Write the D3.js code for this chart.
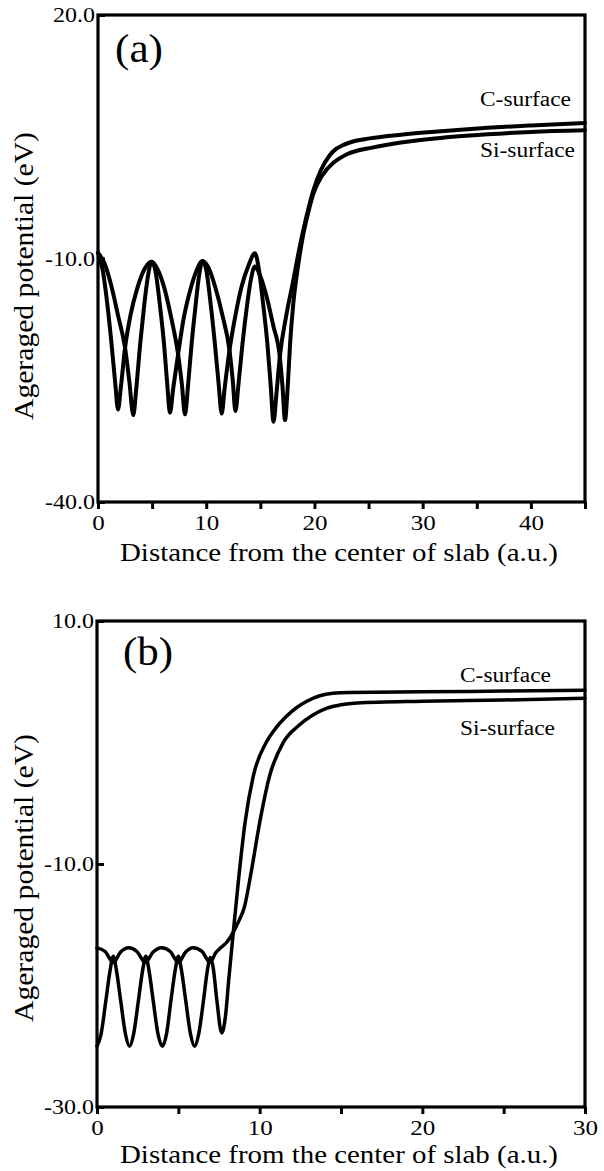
<!DOCTYPE html>
<html>
<head>
<meta charset="utf-8">
<script src="https://cdn.jsdelivr.net/npm/d3@7"></script>
<style>
  html, body { margin: 0; padding: 0; background: #fff; }
  svg { display: block; }
  text { font-family: "Liberation Serif", "Tinos", "Times New Roman", "Nimbus Roman", "DejaVu Serif", serif; fill: #000; }
</style>
</head>
<body>
<svg id="chart" width="604" height="1171"></svg>
<script>
// ---------------- data ----------------
// Panel (a): x in a.u., averaged potential in eV
const aXTicks = [0, 5, 10, 15, 20, 25, 30, 35, 40, 45];
const aYTicks = [20, -10, -40];
const aCsurface = [
  [0,-9.3],[0.4,-11.2],[0.85,-15.5],[1.25,-20.5],[1.6,-25.5],[1.85,-28.6],[2.1,-26],[2.5,-21],[3.0,-17],[3.6,-13.8],[4.3,-11.3],[4.95,-10.4],
  [5.3,-11.5],[5.7,-15.5],[6.1,-20.5],[6.4,-25.5],[6.65,-29],[6.95,-26],[7.4,-21.8],[7.9,-17.5],[8.5,-14],[9.1,-11.5],[9.65,-10.3],
  [10.0,-11.4],[10.4,-15.5],[10.8,-20.5],[11.15,-25.5],[11.43,-29.1],[11.7,-26],[12.15,-21.3],[12.7,-17],[13.3,-13.3],[13.9,-10.9],[14.5,-9.35],
  [14.85,-11.2],[15.25,-15.5],[15.65,-20.5],[15.95,-25.5],[16.22,-30.1],[16.5,-26.5],[16.8,-22.1],[17.4,-17],[18.0,-13],[18.5,-9.5],[18.97,-6.5],
  [19.45,-3.8],[19.9,-1.6],[20.6,0.9],[21.4,2.7],[22.0,3.5],[22.7,4.0],[23.8,4.5],[25.1,4.8],[28,5.25],[32,5.7],[36,6.1],[40,6.4],[45,6.7]
];
const aSisurface = [
  [0,-9.3],[0.6,-10.6],[1.2,-13.2],[1.85,-17],[2.5,-21],[2.9,-25.2],[3.26,-29.3],[3.55,-25.8],[3.9,-20.5],[4.25,-16],[4.6,-12.3],[4.95,-10.4],
  [5.5,-11.3],[6.1,-13.5],[6.75,-17.2],[7.4,-21.8],[7.75,-25.5],[8.04,-29.2],[8.33,-25.5],[8.65,-20.5],[9.0,-16],[9.3,-12.5],[9.65,-10.3],
  [10.2,-11.1],[10.85,-13.6],[11.5,-17],[12.15,-21.3],[12.45,-25],[12.7,-28.8],[12.98,-25.5],[13.35,-20.5],[13.75,-16],[14.1,-12.8],[14.5,-11.0],
  [15.0,-12.2],[15.6,-14.8],[16.2,-18.3],[16.8,-22.1],[17.05,-25.8],[17.28,-29.9],[17.52,-26],[17.75,-20.5],[18.05,-15.5],[18.5,-10.8],[18.97,-7.0],
  [19.45,-4.2],[19.9,-2.0],[20.7,0.2],[21.75,1.8],[22.4,2.4],[23.0,2.85],[24.0,3.3],[25.1,3.6],[28,4.3],[32,4.9],[36,5.3],[40,5.6],[45,5.8]
];

// Panel (b)
const bXTicks = [0, 5, 10, 15, 20, 25, 30];
const bYTicks = [10, -10, -30];
const bCsurface = [
  [0,-25],[0.25,-24],[0.55,-21.2],[0.8,-18.8],[1.0,-17.6],[1.2,-18.8],[1.45,-21.2],[1.75,-24],[2.0,-25],
  [2.25,-24],[2.55,-21.2],[2.8,-18.8],[3.0,-17.6],[3.2,-18.8],[3.45,-21.2],[3.75,-24],[4.02,-25],
  [4.27,-24],[4.55,-21.2],[4.8,-18.8],[5.0,-17.6],[5.2,-18.8],[5.45,-21.2],[5.75,-24],[6.0,-25],
  [6.25,-24],[6.55,-21.2],[6.78,-18.8],[6.97,-17.7],[7.15,-18.6],[7.35,-21],[7.67,-23.9],[7.9,-22.5],[8.1,-19.5],
  [8.38,-15.6],[8.7,-11.3],[9.1,-6.6],[9.6,-2.8],[10.4,0],[11.0,1.2],[11.6,2.1],[12.3,2.9],[12.9,3.4],[13.7,3.85],
  [14.5,4.05],[15.5,4.12],[20,4.17],[25,4.23],[30,4.3]
];
const bSisurface = [
  [0,-16.9],[0.5,-17.2],[1.0,-18.1],[1.45,-17.25],[1.95,-16.9],[2.45,-17.2],[2.97,-18.1],[3.45,-17.25],[3.97,-16.9],
  [4.5,-17.2],[5.0,-18.1],[5.45,-17.25],[5.9,-16.9],[6.45,-17.2],[6.95,-18.1],[7.3,-17.3],[7.6,-16.9],[8.0,-16.4],
  [8.38,-15.6],[8.75,-14.6],[9.05,-13.6],[9.5,-10.5],[10.0,-6.6],[10.6,-2.8],[11.45,0],[12.4,1.4],[13.2,2.2],
  [14.1,2.8],[15.0,3.1],[16.0,3.25],[20,3.4],[25,3.5],[30,3.65]
];

const xTitle = "Distance from the center of slab (a.u.)";
const yTitle = "Ageraged potential (eV)";
const seriesLabels = ["C-surface", "Si-surface"];
const panelLabels = ["(a)", "(b)"];

// ---------------- drawing ----------------
const svg = d3.select("#chart");
const FONT = '"Liberation Serif", "Tinos", "Times New Roman", "Nimbus Roman", "DejaVu Serif", serif';

function drawPanel(cfg) {
  const x = d3.scaleLinear().domain(cfg.xDomain).range([cfg.left, cfg.right]);
  const y = d3.scaleLinear().domain(cfg.yDomain).range([cfg.bottom, cfg.top]);
  const g = svg.append("g");

  const line = d3.line().x(d => x(d[0])).y(d => y(d[1])).curve(d3.curveMonotoneX);
  [cfg.c, cfg.si].forEach(s => {
    g.append("path").attr("d", line(s))
      .attr("fill", "none").attr("stroke", "#000")
      .attr("stroke-width", cfg.lineW).attr("stroke-linejoin", "round").attr("stroke-linecap", "round");
  });

  // bottom axis (outward ticks)
  const xa = g.append("g").attr("transform", `translate(0,${cfg.bottom})`)
    .call(d3.axisBottom(x).tickValues(cfg.xTicks).tickSize(7).tickPadding(6)
      .tickFormat(d => d % 10 === 0 ? String(d) : ""));
  xa.attr("font-family", FONT);
  xa.select(".domain").remove();
  xa.selectAll("line").attr("stroke-width", 3);
  xa.selectAll("text").attr("font-size", 21).style("font-family", FONT)
    .each(function(d) {
      if (d % 10 === 0) d3.select(this).attr("textLength", String(d).length * 12.5).attr("lengthAdjust", "spacingAndGlyphs");
    });

  // left axis (inward ticks)
  const ya = g.append("g").attr("transform", `translate(${cfg.left},0)`)
    .call(d3.axisLeft(y).tickValues(cfg.yTicks).tickSizeInner(-7).tickSizeOuter(0).tickPadding(3)
      .tickFormat(d => d.toFixed(1)));
  ya.attr("font-family", FONT);
  ya.select(".domain").remove();
  ya.selectAll("line").attr("stroke-width", 3);
  ya.selectAll("text").attr("font-size", 21).style("font-family", FONT)
    .attr("textLength", d => d < 0 ? 50 : 42).attr("lengthAdjust", "spacingAndGlyphs");

  // frame
  g.append("rect").attr("x", cfg.left).attr("y", cfg.top)
    .attr("width", cfg.right - cfg.left).attr("height", cfg.bottom - cfg.top)
    .attr("fill", "none").attr("stroke", "#000").attr("stroke-width", 3.2);

  // titles
  g.append("text").attr("x", 120).attr("y", cfg.bottom + cfg.titleDy)
    .attr("font-size", 26).attr("textLength", 438).attr("lengthAdjust", "spacingAndGlyphs")
    .text(xTitle);
  g.append("text")
    .attr("transform", `translate(33,${cfg.yTitleStart}) rotate(-90)`)
    .attr("font-size", 27).attr("textLength", 288).attr("lengthAdjust", "spacingAndGlyphs")
    .text(yTitle);

  // panel label
  g.append("text").attr("x", cfg.labelX).attr("y", cfg.labelY)
    .attr("font-size", cfg.labelSize).attr("textLength", cfg.labelW).attr("lengthAdjust", "spacingAndGlyphs")
    .text(cfg.label);

  // series labels
  g.append("text").attr("x", cfg.serX).attr("y", cfg.cY)
    .attr("font-size", 20).attr("textLength", 91).attr("lengthAdjust", "spacingAndGlyphs")
    .text(seriesLabels[0]);
  g.append("text").attr("x", cfg.serX).attr("y", cfg.siY)
    .attr("font-size", 20).attr("textLength", 95).attr("lengthAdjust", "spacingAndGlyphs")
    .text(seriesLabels[1]);
}

drawPanel({
  xDomain: [0, 45], yDomain: [-40, 20], xTicks: aXTicks, yTicks: aYTicks,
  left: 98, right: 585, top: 15, bottom: 502,
  c: aCsurface, si: aSisurface, lineW: 4,
  label: panelLabels[0], labelX: 115, labelY: 62, labelSize: 40, labelW: 48,
  serX: 480, cY: 106, siY: 157, titleDy: 59, yTitleStart: 420
});

drawPanel({
  xDomain: [0, 30], yDomain: [-30, 10], xTicks: bXTicks, yTicks: bYTicks,
  left: 97, right: 585, top: 621, bottom: 1107,
  c: bCsurface, si: bSisurface, lineW: 3.5,
  label: panelLabels[1], labelX: 123, labelY: 665, labelSize: 41, labelW: 50,
  serX: 460, cY: 682, siY: 735, titleDy: 56, yTitleStart: 1022
});
</script>
</body>
</html>
